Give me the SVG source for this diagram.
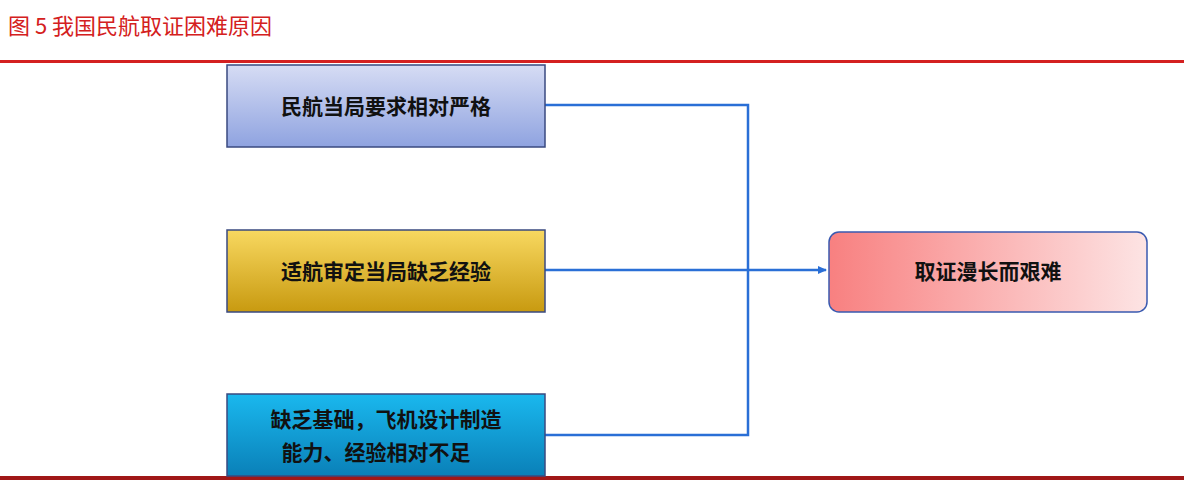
<svg xmlns="http://www.w3.org/2000/svg" width="1184" height="480" viewBox="0 0 1184 480">
<style>
.t{font-family:"Noto Sans CJK SC",sans-serif;font-size:21px;font-weight:bold;fill:#111;text-anchor:middle}
.c{fill:none;stroke:#2a6fd6;stroke-width:2.5}
.b{stroke:#3a4a80;stroke-width:1.5}
</style>
<defs>
<linearGradient id="g1" x1="0" y1="0" x2="0" y2="1"><stop offset="0" stop-color="#d6dcf4"/><stop offset="1" stop-color="#8fa3e0"/></linearGradient>
<linearGradient id="g2" x1="0" y1="0" x2="0" y2="1"><stop offset="0" stop-color="#f8d860"/><stop offset="1" stop-color="#c89a10"/></linearGradient>
<linearGradient id="g3" x1="0" y1="0" x2="0" y2="1"><stop offset="0" stop-color="#1ab8ee"/><stop offset="1" stop-color="#0a80b8"/></linearGradient>
<linearGradient id="g4" x1="0" y1="0" x2="1" y2="0"><stop offset="0" stop-color="#f88080"/><stop offset="1" stop-color="#fde4e4"/></linearGradient>
<marker id="a" markerWidth="10" markerHeight="10" refX="8" refY="5" orient="auto" markerUnits="userSpaceOnUse"><path d="M0,1 L9,5 L0,9 Z" fill="#2a6fd6"/></marker>
</defs>
<rect width="1184" height="480" fill="#fff"/>
<text x="8" y="34" style="font-family:'Noto Sans CJK SC',serif;font-size:22px;fill:#d42020">图 5  我国民航取证困难原因</text>
<rect x="0" y="60" width="1184" height="3" fill="#d42020"/>
<rect x="0" y="476" width="1184" height="4" fill="#a01818"/>
<g id="connectors">
<path class="c" d="M545,105 H748 V435 H545"/>
<path class="c" d="M545,270 H826" marker-end="url(#a)"/>
</g>
<g id="n1"><rect class="b" x="227" y="65" width="318" height="82" fill="url(#g1)"/><text class="t" x="386" y="114">民航当局要求相对严格</text></g>
<g id="n2"><rect class="b" x="227" y="230" width="318" height="82" fill="url(#g2)"/><text class="t" x="386" y="279">适航审定当局缺乏经验</text></g>
<g id="n3"><rect class="b" x="227" y="394" width="318" height="82" fill="url(#g3)"/><text class="t" x="386" y="427">缺乏基础，飞机设计制造</text><text class="t" x="376" y="460">能力、经验相对不足</text></g>
<g id="n4"><rect x="829" y="232" width="318" height="80" rx="10" fill="url(#g4)" stroke="#3a5ab0" stroke-width="1.5"/><text class="t" x="988" y="279">取证漫长而艰难</text></g>
</svg>
